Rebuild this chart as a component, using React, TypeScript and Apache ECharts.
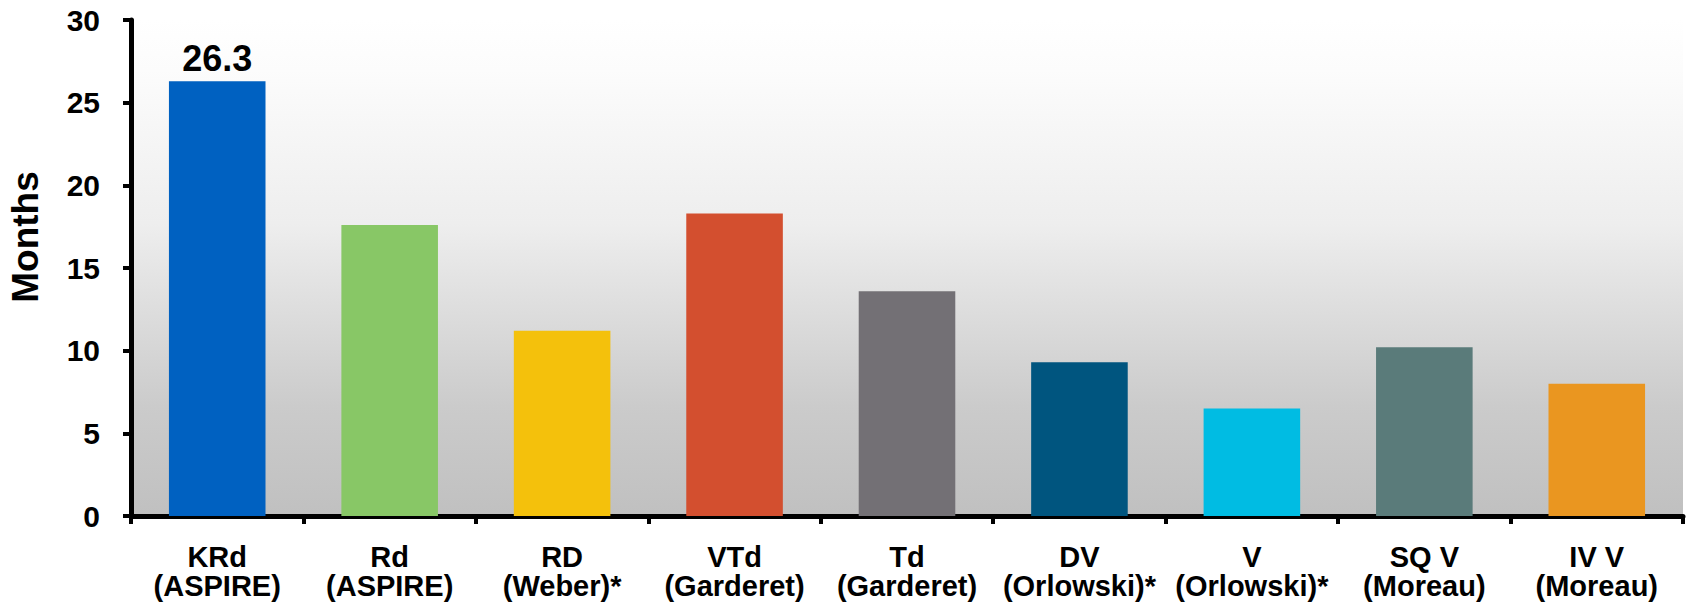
import React, { useEffect, useRef } from "react";
import * as echarts from "echarts";

const categories = [
  "KRd\n(ASPIRE)",
  "Rd\n(ASPIRE)",
  "RD\n(Weber)*",
  "VTd\n(Garderet)",
  "Td\n(Garderet)",
  "DV\n(Orlowski)*",
  "V\n(Orlowski)*",
  "SQ V\n(Moreau)",
  "IV V\n(Moreau)",
];
const months = [26.3, 17.6, 11.2, 18.3, 13.6, 9.3, 6.5, 10.2, 8.0];
const barColors = [
  "#0061c1",
  "#88c766",
  "#f4c10c",
  "#d34f2f",
  "#737075",
  "#00557f",
  "#00bce3",
  "#5a7b7a",
  "#ea9620",
];
const labelledIndex = 0;
const yAxisTitle = "Months";

const FONT = "'Liberation Sans', Arial, sans-serif";

export default function App() {
  const ref = useRef<HTMLDivElement>(null);
  useEffect(() => {
    if (!ref.current) return;
    const chart = echarts.init(ref.current, undefined, { renderer: "svg" });
    chart.setOption({
      animation: false,
      backgroundColor: "#ffffff",
      grid: {
        left: 131,
        top: 20,
        right: 5,
        bottom: 87,
        show: true,
        borderWidth: 0,
        backgroundColor: new echarts.graphic.LinearGradient(0, 0, 0, 1, [
          { offset: 0, color: "#ffffff" },
          { offset: 0.1, color: "#fcfcfc" },
          { offset: 0.36, color: "#f0f0f0" },
          { offset: 0.41, color: "#eeeeee" },
          { offset: 0.63, color: "#d9d9d9" },
          { offset: 0.78, color: "#cbcbcb" },
          { offset: 1, color: "#c0c0c0" },
        ]),
      },
      xAxis: {
        type: "category",
        data: categories,
        axisLine: { show: true, lineStyle: { color: "#000", width: 5 } },
        axisTick: { show: true, length: 8, lineStyle: { color: "#000", width: 4 } },
        axisLabel: {
          color: "#000",
          fontFamily: FONT,
          fontWeight: "bold",
          fontSize: 29,
          lineHeight: 29,
          margin: 26,
          interval: 0,
        },
        splitLine: { show: false },
      },
      yAxis: {
        type: "value",
        min: 0,
        max: 30,
        interval: 5,
        axisLine: { show: true, lineStyle: { color: "#000", width: 5 } },
        axisTick: { show: true, length: 8, lineStyle: { color: "#000", width: 4 } },
        axisLabel: {
          color: "#000",
          fontFamily: FONT,
          fontWeight: "bold",
          fontSize: 30,
          margin: 31,
        },
        splitLine: { show: false },
      },
      graphic: [
        {
          type: "text",
          x: 25,
          y: 237,
          rotation: Math.PI / 2,
          style: {
            text: yAxisTitle,
            fill: "#000",
            font: `bold 37px ${FONT}`,
            align: "center",
            verticalAlign: "middle",
          },
        },
      ],
      series: [
        {
          type: "bar",
          barWidth: "56%",
          data: months.map((v, i) => ({
            value: v,
            itemStyle: { color: barColors[i] },
            label: {
              show: i === labelledIndex,
              position: "top",
              distance: 5,
              color: "#000",
              fontFamily: FONT,
              fontWeight: "bold",
              fontSize: 36,
              formatter: (p: any) => String(p.value),
            },
          })),
        },
      ],
    });
    return () => chart.dispose();
  }, []);
  return (
    <div
      ref={ref}
      style={{ position: "fixed", left: 0, top: 0, width: 1688, height: 603 }}
    />
  );
}
